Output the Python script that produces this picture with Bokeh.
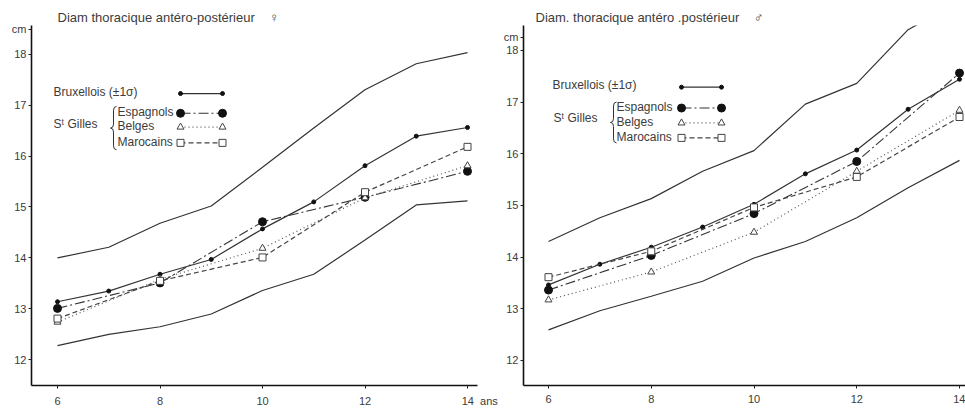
from bokeh.plotting import figure
from bokeh.layouts import row
from bokeh.models import Range1d, Label, FixedTicker, Title
from bokeh.embed import file_html
from bokeh.resources import INLINE

# ---------------- data ----------------
ages_all = [6, 7, 8, 9, 10, 11, 12, 13, 14]
ages_even = [6, 8, 10, 12, 14]
x_ticks = [6, 8, 10, 12, 14]
y_ticks = [12, 13, 14, 15, 16, 17, 18]

# Girls (♀)
f_brux_mean = [13.14, 13.35, 13.68, 13.97, 14.57, 15.10, 15.81, 16.39, 16.56]
f_brux_upper = [14.00, 14.21, 14.68, 15.02, 15.78, 16.55, 17.30, 17.81, 18.03]
f_brux_lower = [12.28, 12.50, 12.65, 12.90, 13.36, 13.68, 14.35, 15.04, 15.12]
f_esp = [13.01, 13.51, 14.71, 15.19, 15.70]
f_bel = [12.74, 13.58, 14.19, 15.18, 15.81]
f_mar = [12.81, 13.55, 14.01, 15.29, 16.18]

# Boys (♂)
m_brux_mean = [13.46, 13.86, 14.19, 14.58, 15.02, 15.61, 16.07, 16.86, 17.44]
m_brux_upper = [14.30, 14.76, 15.13, 15.66, 16.06, 16.96, 17.36, 18.40, 18.95]
m_brux_lower = [12.59, 12.96, 13.24, 13.53, 13.98, 14.30, 14.76, 15.34, 15.87]
m_esp = [13.36, 14.03, 14.84, 15.85, 17.56]
m_bel = [13.17, 13.71, 14.48, 15.66, 16.84]
m_mar = [13.61, 14.11, 14.96, 15.55, 16.71]

FONT = "Liberation Sans"
INK = "#333333"
TXT = "#3c3c3c"
NB = "\u00a0"


def make_panel(canvas_x0, width, L, R, T, B, x6, x14, y18, y12,
               mean, upper, lower, esp, bel, mar, title, title_off, cm_py, with_ans, legend):
    kx = (x14 - x6) / 8.0
    ky = (y12 - y18) / 6.0
    xs = 6 - (x6 - L) / kx
    xe = 14 + (R - x14) / kx
    ye = 18 + (y18 - T) / ky
    ys = 12 - (B - y12) / ky

    def dx(px):
        return 6 + (px - x6) / kx

    def dy(py):
        return 18 - (py - y18) / ky

    p = figure(width=width, height=409, output_backend="svg", toolbar_location=None,
               x_range=Range1d(xs, xe), y_range=Range1d(ys, ye),
               min_border_left=L - canvas_x0, min_border_right=canvas_x0 + width - R,
               min_border_top=T, min_border_bottom=409 - B)
    p.outline_line_color = None
    p.grid.visible = False
    p.background_fill_color = "white"
    p.border_fill_color = "white"
    for ax in (p.xaxis[0], p.yaxis[0]):
        ax.axis_line_color = "#111111"
        ax.axis_line_width = 1.6
        ax.major_tick_line_color = "#222222"
        ax.major_tick_in = 0
        ax.major_tick_out = 3
        ax.minor_tick_line_color = None
        ax.major_label_text_font = FONT
        ax.major_label_text_font_size = "11px"
        ax.major_label_text_color = TXT
    p.xaxis.ticker = FixedTicker(ticks=x_ticks)
    if with_ans:
        # unit "ans" written after the last tick label, padded so that "14" stays centred
        p.xaxis.major_label_overrides = {14: NB * 8 + "14" + NB * 2 + "ans"}
    cm_val = round(dy(cm_py), 3)
    p.yaxis.ticker = FixedTicker(ticks=y_ticks + [cm_val])
    p.yaxis.major_label_overrides = {cm_val: "cm"}
    p.xaxis.major_label_standoff = 6
    p.yaxis.major_label_standoff = 2

    p.add_layout(Title(text=title, align="left", offset=title_off, standoff=2,
                       text_font=FONT, text_font_size="13px", text_font_style="normal",
                       text_color=TXT), "above")

    # Bruxellois ±1σ
    p.line(ages_all, upper, line_color=INK, line_width=1.2)
    p.line(ages_all, lower, line_color=INK, line_width=1.2)
    p.line(ages_all, mean, line_color=INK, line_width=1.2)
    p.scatter(ages_all, mean, size=4, marker="circle", fill_color="#111111", line_color="#111111")
    # St Gilles groups
    p.line(ages_even, esp, line_color=INK, line_width=1.1, line_dash="10 3 2 3")
    p.scatter(ages_even, esp, size=8, marker="circle", fill_color="#111111", line_color="#111111")
    p.line(ages_even, bel, line_color="#555555", line_width=1.2, line_dash="1 3")
    p.scatter(ages_even, bel, size=7, marker="triangle", fill_color="white", line_color="#444444", line_width=1)
    p.line(ages_even, mar, line_color="#444444", line_width=1.2, line_dash="5 3")
    p.scatter(ages_even, mar, size=7, marker="square", fill_color="white", line_color="#444444", line_width=1)

    # hand-drawn legend
    lg = legend
    p.add_layout(Label(x=dx(lg["tx"]), y=dy(lg["y_brux"]), text="Bruxellois (±1σ)", text_font=FONT,
                       text_font_size="12px", text_color=TXT, text_baseline="middle"))
    p.add_layout(Label(x=dx(lg["sx"]), y=dy(lg["y_sg"]), text="Sᵗ Gilles", text_font=FONT,
                       text_font_size="12px", text_color=TXT, text_baseline="middle"))
    names = [("Espagnols", lg["y_esp"]), ("Belges", lg["y_bel"]), ("Marocains", lg["y_mar"])]
    for name, yy in names:
        p.add_layout(Label(x=dx(lg["gx"]), y=dy(yy), text=name, text_font=FONT,
                           text_font_size="12px", text_color=TXT, text_baseline="middle"))
    a, b = dx(lg["m1"]), dx(lg["m2"])
    yb = dy(lg["y_brux"] + 2)
    p.segment(a, yb, b, yb, line_color=INK, line_width=1.2)
    p.scatter([a, b], [yb, yb], size=4, fill_color="#111111", line_color="#111111")
    ye_ = dy(lg["y_esp"] + 1)
    p.segment(a, ye_, b, ye_, line_color=INK, line_width=1.1, line_dash="10 3 2 3")
    p.scatter([a, b], [ye_, ye_], size=8, fill_color="#111111", line_color="#111111")
    ybl = dy(lg["y_bel"] + 1)
    p.segment(a, ybl, b, ybl, line_color="#555555", line_width=1.2, line_dash="1 3")
    p.scatter([a, b], [ybl, ybl], size=7, marker="triangle", fill_color="white", line_color="#444444")
    ym = dy(lg["y_mar"] + 1)
    p.segment(a, ym, b, ym, line_color="#444444", line_width=1.2, line_dash="5 3")
    p.scatter([a, b], [ym, ym], size=7, marker="square", fill_color="white", line_color="#444444")
    # brace
    xb, t, bt = lg["bx"], lg["btop"], lg["bbot"]
    mid = (t + bt) / 2.0
    p.quadratic(x0=[dx(xb + 3), dx(xb), dx(xb - 3), dx(xb)],
                y0=[dy(t), dy(mid - 4), dy(mid), dy(bt - 4)],
                x1=[dx(xb), dx(xb - 3), dx(xb), dx(xb + 3)],
                y1=[dy(t + 4), dy(mid), dy(mid + 4), dy(bt)],
                cx=[dx(xb), dx(xb), dx(xb), dx(xb)],
                cy=[dy(t), dy(mid), dy(mid), dy(bt)],
                line_color=INK, line_width=1)
    p.segment(x0=[dx(xb), dx(xb)], y0=[dy(t + 4), dy(mid + 4)],
              x1=[dx(xb), dx(xb)], y1=[dy(mid - 4), dy(bt - 4)], line_color=INK, line_width=1)
    return p


left = make_panel(
    0, 500, 31, 477, 22, 387, 57, 467, 51, 361,
    f_brux_mean, f_brux_upper, f_brux_lower, f_esp, f_bel, f_mar,
    "Diam thoracique antéro-postérieur" + NB * 4 + "♀", 26, 26, True,
    legend=dict(tx=53, y_brux=89, sx=53, y_sg=122, gx=117, y_esp=110, y_bel=124, y_mar=140,
                m1=180, m2=222, bx=113, btop=104, bbot=148))

right = make_panel(
    500, 465, 523, 965, 25, 387, 548, 959, 50, 361.7,
    m_brux_mean, m_brux_upper, m_brux_lower, m_esp, m_bel, m_mar,
    "Diam. thoracique antéro .postérieur" + NB * 4 + "♂", 12, 37, False,
    legend=dict(tx=552, y_brux=85, sx=553, y_sg=118, gx=616, y_esp=107, y_bel=122, y_mar=137,
                m1=681, m2=721, bx=613, btop=102, bbot=143))

layout = row(left, right)
open("out.html", "w").write(file_html(layout, INLINE))
